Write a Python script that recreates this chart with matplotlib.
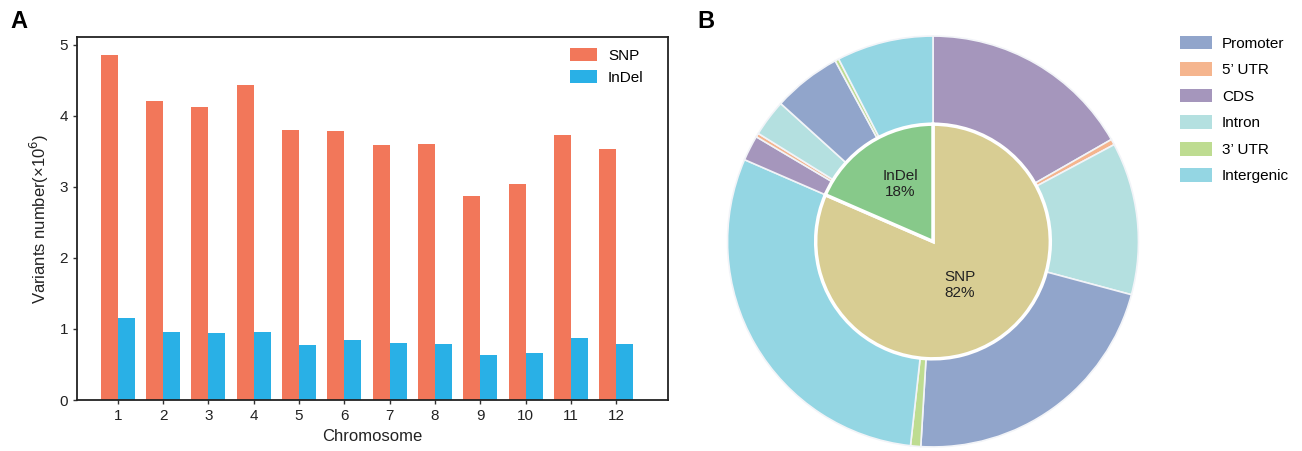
import numpy as np
import matplotlib.pyplot as plt
from matplotlib.patches import Patch

plt.rcParams['font.family'] = ['Liberation Sans', 'DejaVu Sans']

# --- panel A data ---
chromosomes = ['1', '2', '3', '4', '5', '6', '7', '8', '9', '10', '11', '12']
snp = [4.86, 4.21, 4.13, 4.44, 3.80, 3.79, 3.59, 3.61, 2.87, 3.04, 3.73, 3.54]
indel = [1.155, 0.96, 0.94, 0.96, 0.775, 0.845, 0.80, 0.79, 0.635, 0.66, 0.87, 0.79]

# --- panel B data (percent of all variants) ---
regions = ['Promoter', "5\u2019 UTR", 'CDS', 'Intron', "3\u2019 UTR", 'Intergenic']
# outer ring order, clockwise from top: CDS, 5'UTR, Intron, Promoter, 3'UTR, Intergenic
ring_order = ['CDS', "5\u2019 UTR", 'Intron', 'Promoter', "3\u2019 UTR", 'Intergenic']
snp_parts = [16.75, 0.45, 12.0, 21.8, 0.8, 29.8]
indel_parts = [2.0, 0.3, 2.9, 5.4, 0.3, 7.6]
inner_labels = ['SNP', 'InDel']
inner_text = ['SNP\n82%', 'InDel\n18%']

c_snp = '#F2775A'
c_indel = '#29B0E6'
region_colors = {'Promoter': '#91A5CB', "5\u2019 UTR": '#F5B58E', 'CDS': '#A596BC',
                 'Intron': '#B4E0E0', "3\u2019 UTR": '#BEDC91', 'Intergenic': '#94D6E3'}
inner_colors = ['#D8CD93', '#87C98A']

W, H = 1302, 451
fig = plt.figure(figsize=(W / 100, H / 100), dpi=100)

###Bar chart
ax = fig.add_axes([77 / W, 1 - 400 / H, (668 - 77) / W, (400 - 37) / H])
x = np.arange(1, len(chromosomes) + 1)
w = 0.375
ax.bar(x - w / 2, snp, w, color=c_snp, label='SNP')
ax.bar(x + w / 2, indel, w, color=c_indel, label='InDel')
ax.set_xlim(0.1, 13.14)
ax.set_ylim(0, 5.11)
ax.set_xticks(x)
ax.set_xticklabels(chromosomes)
ax.set_yticks([0, 1, 2, 3, 4, 5])
ax.tick_params(labelsize=11, length=3, width=1, color='#333333', labelcolor='#222222')
for s in ax.spines.values():
    s.set_linewidth(1.3)
    s.set_color('#222222')
ax.set_xlabel('Chromosome', fontsize=12, color='#222222', labelpad=4)
ax.set_ylabel('Variants number(\u00d710$^6$)', fontsize=12, color='#222222', labelpad=6)
leg = ax.legend(loc='upper right', bbox_to_anchor=(1 - 13 / 591, 1), frameon=False,
                fontsize=11, handlelength=1.8, handleheight=0.9, borderaxespad=0.35,
                labelspacing=0.45, handletextpad=0.7)

###Pie chart
R = 207.5
pax = fig.add_axes([(933 - R) / W, (H - 241.5 - R) / H, 2 * R / W, 2 * R / H])
outer_vals = snp_parts + indel_parts
outer_cols = [region_colors[r] for r in ring_order] * 2
pax.pie(outer_vals, radius=1, startangle=90, counterclock=False, colors=outer_cols,
        wedgeprops=dict(width=1 - 0.571, edgecolor='#F2F4F8', linewidth=1.2))
inner_vals = [sum(snp_parts), sum(indel_parts)]
pax.pie(inner_vals, radius=0.571, startangle=90, counterclock=False, colors=inner_colors,
        wedgeprops=dict(edgecolor='white', linewidth=2.5))
pax.text(0.13, -0.21, inner_text[0], ha='center', va='center', fontsize=11, color='#222222')
pax.text(-0.16, 0.28, inner_text[1], ha='center', va='center', fontsize=11, color='#222222')
pax.set_xlim(-1.01, 1.01)
pax.set_ylim(-1.01, 1.01)
pax.set_aspect('equal')
pax.axis('off')

handles = [Patch(facecolor=region_colors[r], edgecolor='none') for r in regions]
fig.legend(handles, regions, loc='upper left', bbox_to_anchor=(1166 / W, 1 - 22 / H),
           frameon=False, fontsize=11, handlelength=2.1, handleheight=1.0,
           labelspacing=0.75, handletextpad=0.65)

fig.text(10 / W, 1 - 22 / H, 'A', fontsize=17, fontweight='bold', va='center', ha='left')
fig.text(697 / W, 1 - 22 / H, 'B', fontsize=17, fontweight='bold', va='center', ha='left')

fig.savefig('out.png', dpi=100)
